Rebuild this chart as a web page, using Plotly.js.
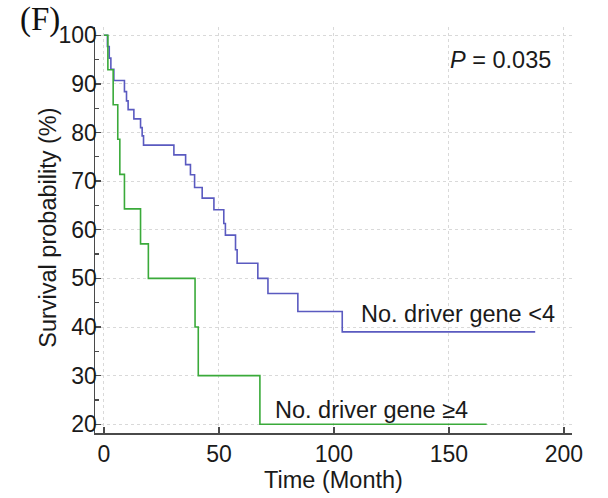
<!DOCTYPE html>
<html>
<head>
<meta charset="utf-8">
<script src="https://cdn.plot.ly/plotly-3.0.1.min.js"></script>
<style>html,body{margin:0;padding:0;background:#fff;}#chart{width:608px;height:498px;}</style>
</head>
<body>
<div id="chart"></div>
<script>
// Kaplan-Meier step data
const blueName = 'No. driver gene <4';
const blueTime = [0, 1.5, 2.3, 3.0, 4.3, 8.9, 9.8, 10.5, 13.0, 15.9, 16.6, 17.2, 30.4, 35.5, 37.6, 39.4, 42.7, 47.8, 52.1, 52.8, 57.2, 57.9, 66.9, 71.3, 84.3, 103.6, 187.5];
const blueSurv = [100, 97.7, 95.3, 93.0, 90.7, 88.4, 86.5, 84.7, 82.8, 81.0, 79.3, 77.4, 75.4, 73.4, 71.3, 68.7, 66.5, 64.1, 61.3, 58.9, 55.9, 53.1, 50.0, 46.9, 43.2, 39.0, 39.0];

const greenName = 'No. driver gene ≥4';
const greenTime = [0, 1.7, 4.0, 6.0, 6.9, 8.9, 15.9, 19.3, 39.6, 41.0, 67.8, 166.4];
const greenSurv = [100, 92.9, 85.7, 78.6, 71.4, 64.3, 57.1, 50.0, 40.0, 30.0, 20.0, 20.0];

const xTicks = [0, 50, 100, 150, 200];
const yTicks = [20, 30, 40, 50, 60, 70, 80, 90, 100];
const xTitle = 'Time (Month)';
const yTitle = 'Survival probability (%)';
const pText = '<i>P</i> = 0.035';
const panelLabel = '(F)';

const font = 'Liberation Sans, Arial, sans-serif';
const axisColor = '#4a4a4a';

const traces = [
  {x: blueTime, y: blueSurv, type: 'scatter', mode: 'lines', name: blueName,
   line: {shape: 'hv', color: '#5a5ac0', width: 1.6}, showlegend: false},
  {x: greenTime, y: greenSurv, type: 'scatter', mode: 'lines', name: greenName,
   line: {shape: 'hv', color: '#3aaa3a', width: 1.6}, showlegend: false}
];

const layout = {
  width: 608, height: 498,
  margin: {l: 95, r: 36, t: 27, b: 65},
  paper_bgcolor: '#fff', plot_bgcolor: '#fff',
  font: {family: font, size: 23, color: '#1a1a1a'},
  xaxis: {
    range: [-3.9, 203.5], tickvals: xTicks, ticktext: xTicks.map(String),
    ticks: 'inside', ticklen: 6, tickcolor: axisColor, tickwidth: 1.3,
    showline: true, linecolor: axisColor, linewidth: 1.5,
    showgrid: true, gridcolor: '#d9d9d9', griddash: 'dot', gridwidth: 1,
    zeroline: false, tickfont: {size: 23},
    title: {text: xTitle, font: {size: 23.5}, standoff: 4}
  },
  yaxis: {
    range: [18.2, 101.7], tickvals: yTicks, ticktext: yTicks.map(String),
    ticks: 'inside', ticklen: 6, tickcolor: axisColor, tickwidth: 1.3,
    ticklabelstandoff: -8,
    minor: {dtick: 5, tick0: 0, ticks: 'inside', ticklen: 4, tickcolor: axisColor, showgrid: false},
    showline: true, linecolor: axisColor, linewidth: 1.5,
    showgrid: true, gridcolor: '#d9d9d9', griddash: 'dot', gridwidth: 1,
    zeroline: false, tickfont: {size: 23}
  },
  annotations: [
    {x: -0.099, y: 0.505, xref: 'paper', yref: 'paper', text: yTitle, textangle: -90,
     showarrow: false, xanchor: 'center', yanchor: 'middle', font: {size: 23.5}},
    {x: 172.4, y: 94.9, xref: 'x', yref: 'y', text: pText, showarrow: false,
     xanchor: 'center', yanchor: 'middle', font: {size: 23.5}},
    {x: 154, y: 42.7, xref: 'x', yref: 'y', text: blueName, showarrow: false,
     xanchor: 'center', yanchor: 'middle', font: {size: 23.5}},
    {x: 116.3, y: 23.0, xref: 'x', yref: 'y', text: greenName, showarrow: false,
     xanchor: 'center', yanchor: 'middle', font: {size: 23.5}},
    {x: -0.116, y: 1.018, xref: 'paper', yref: 'paper', text: panelLabel, showarrow: false,
     xanchor: 'center', yanchor: 'middle', font: {family: 'Liberation Serif, Times New Roman, serif', size: 33, color: '#111'}}
  ]
};

Plotly.newPlot('chart', traces, layout, {displayModeBar: false, staticPlot: true});
</script>
</body>
</html>
